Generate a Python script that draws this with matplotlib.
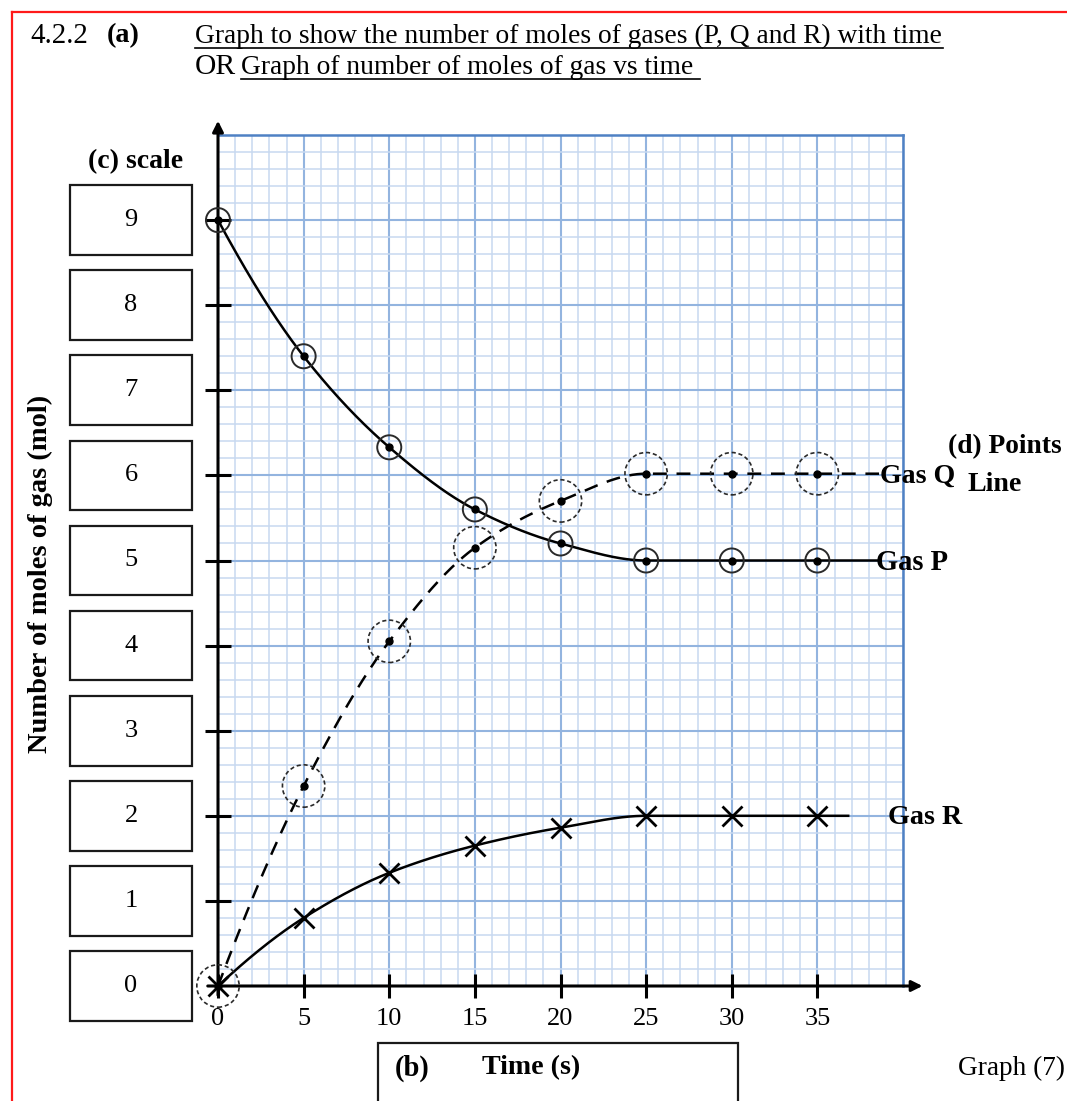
import numpy as np
import matplotlib
matplotlib.use("Agg")
import matplotlib.pyplot as plt
from matplotlib.patches import Rectangle
from matplotlib.lines import Line2D
from matplotlib.transforms import blended_transform_factory
from matplotlib.ticker import MultipleLocator

# ---------------- data ----------------
time_s = [0, 5, 10, 15, 20, 25, 30, 35]
gas_p = [9.0, 7.4, 6.33, 5.6, 5.2, 5.0, 5.0, 5.0]
gas_q = [0.0, 2.35, 4.05, 5.15, 5.7, 6.02, 6.02, 6.02]
gas_r = [0.0, 0.8, 1.33, 1.65, 1.86, 2.0, 2.0, 2.0]
x_ticks = [0, 5, 10, 15, 20, 25, 30, 35]
y_scale = [0, 1, 2, 3, 4, 5, 6, 7, 8, 9]
series_names = ["Gas P", "Gas Q", "Gas R"]

# ---------------- style ----------------
plt.rcParams["font.family"] = ["Liberation Serif", "DejaVu Serif"]
plt.rcParams["lines.scale_dashes"] = False
W, H = 1067, 1101
fig = plt.figure(figsize=(W / 100, H / 100), dpi=100)
fig.patch.set_facecolor("white")

def fx(px):
    return px / W

def fy(py):
    return 1 - py / H

ax = fig.add_axes([fx(218), fy(986), (903 - 218) / W, (986 - 135) / H])
ax.set_xlim(0, 40)
ax.set_ylim(0, 10)
ax.set_facecolor("white")

# graph paper grid
ax.xaxis.set_minor_locator(MultipleLocator(1))
ax.yaxis.set_minor_locator(MultipleLocator(0.2))
ax.set_xticks(x_ticks)
ax.set_yticks(y_scale[1:])
ax.set_yticklabels([])
ax.set_xticklabels([str(v) for v in x_ticks], fontsize=19)
ax.tick_params(axis="both", which="minor", length=0)
ax.tick_params(axis="y", which="major", direction="inout", length=19, width=2.2, color="k")
ax.tick_params(axis="x", which="major", direction="inout", length=17, width=2.2, color="k", pad=7)
ax.set_axisbelow(True)
ax.grid(which="minor", color="#c8d9f0", lw=1.1)
ax.grid(which="major", color="#93b4df", lw=1.5)
for s in ["left", "bottom"]:
    ax.spines[s].set_visible(False)
for s in ["top", "right"]:
    ax.spines[s].set_color("#4f81c4")
    ax.spines[s].set_linewidth(1.8)

# axis arrows
ax.annotate("", xy=(0, 10.2), xytext=(0, -0.14), xycoords="data",
            arrowprops=dict(arrowstyle="-|>", lw=2.2, color="k", mutation_scale=16),
            annotation_clip=False)
ax.annotate("", xy=(41.3, 0), xytext=(-0.76, 0), xycoords="data",
            arrowprops=dict(arrowstyle="-|>", lw=2.2, color="k", mutation_scale=16),
            annotation_clip=False)

# ---------------- smooth curves ----------------
def pchip(x, y, xs):
    x = np.asarray(x, float)
    y = np.asarray(y, float)
    h = np.diff(x)
    d = np.diff(y) / h
    n = len(x)
    m = np.zeros(n)
    for k in range(1, n - 1):
        if d[k - 1] * d[k] > 0:
            w1 = 2 * h[k] + h[k - 1]
            w2 = h[k] + 2 * h[k - 1]
            m[k] = (w1 + w2) / (w1 / d[k - 1] + w2 / d[k])
    def end_slope(h0, h1, d0, d1):
        s = ((2 * h0 + h1) * d0 - h0 * d1) / (h0 + h1)
        if np.sign(s) != np.sign(d0):
            s = 0.0
        elif np.sign(d0) != np.sign(d1) and abs(s) > abs(3 * d0):
            s = 3 * d0
        return s
    m[0] = end_slope(h[0], h[1], d[0], d[1])
    m[-1] = end_slope(h[-1], h[-2], d[-1], d[-2])
    idx = np.clip(np.searchsorted(x, xs) - 1, 0, n - 2)
    t = (xs - x[idx]) / h[idx]
    h00 = 2 * t**3 - 3 * t**2 + 1
    h10 = t**3 - 2 * t**2 + t
    h01 = -2 * t**3 + 3 * t**2
    h11 = t**3 - t**2
    return h00 * y[idx] + h10 * h[idx] * m[idx] + h01 * y[idx + 1] + h11 * h[idx] * m[idx + 1]

xs = np.linspace(time_s[0], time_s[-1], 500)
line_end = {"Gas P": 38.6, "Gas Q": 38.6, "Gas R": 36.8}

def curve(vals, name):
    ys = pchip(time_s, vals, xs)
    return np.append(xs, line_end[name]), np.append(ys, vals[-1])

cx, cy = curve(gas_p, "Gas P")
ax.plot(cx, cy, color="k", lw=1.8, zorder=3, clip_on=False)
cx, cy = curve(gas_q, "Gas Q")
ax.plot(cx, cy, color="k", lw=1.8, dashes=(10, 7), zorder=3, clip_on=False)
cx, cy = curve(gas_r, "Gas R")
ax.plot(cx, cy, color="k", lw=1.8, zorder=3, clip_on=False)

# markers
ax.scatter(time_s, gas_p, s=300, facecolors="none", edgecolors="#2a2a2a", linewidths=1.4,
           zorder=4, clip_on=False)
ax.plot(time_s, gas_p, "o", color="k", ms=5, zorder=5, ls="none", clip_on=False)
ax.scatter(time_s, gas_q, s=930, facecolors="none", edgecolors="#2a2a2a", linewidths=1.2,
           linestyles=[(0, (3, 2))], zorder=4, clip_on=False)
ax.plot(time_s, gas_q, "o", color="k", ms=5, zorder=5, ls="none", clip_on=False)
ax.plot(time_s, gas_r, "x", color="k", ms=14, mew=2.0, zorder=5, ls="none", clip_on=False)

# ---------------- scale boxes ----------------
trans = blended_transform_factory(fig.transFigure, ax.transData)
for v in y_scale:
    ax.add_patch(Rectangle((fx(70), v - 0.41), (192 - 70) / W, 0.82, transform=trans,
                           fill=False, ec="#1a1a1a", lw=1.6, clip_on=False))
    ax.text(fx(131), v, str(v), transform=trans, ha="center", va="center", fontsize=19,
            clip_on=False)

# ---------------- text helpers ----------------
renderer = fig.canvas.get_renderer()

def fit_text(s, x0, x1, yc, weight="normal", size=18):
    t = fig.text(fx(x0), fy(yc), s, ha="left", va="center", fontsize=size, fontweight=weight)
    bb = t.get_window_extent(renderer)
    t.set_fontsize(size * (x1 - x0) / bb.width)
    return t

def underline(x0, x1, y):
    fig.add_artist(Line2D([fx(x0), fx(x1)], [fy(y), fy(y)], color="k", lw=1.2))

fit_text("4.2.2", 30, 88, 36)
fit_text("(a)", 107, 140, 36, "bold")
fit_text("Graph to show the number of moles of gases (P, Q and R) with time", 195, 943, 36)
underline(195, 943, 48)
fit_text("OR", 195, 236, 67)
fit_text("Graph of number of moles of gas vs time", 241, 693, 67)
underline(241, 700, 79)

fit_text("(c) scale", 88, 183, 162, "bold")
fit_text("(d) Points", 948, 1062, 447, "bold")
fit_text("Line", 968, 1022, 484, "bold")
fit_text(series_names[1], 880, 955, 476, "bold")
fit_text(series_names[0], 876, 948, 562, "bold")
fit_text(series_names[2], 888, 962, 818, "bold")
fit_text("(b)", 395, 430, 1068, "bold")
fit_text("Time (s)", 482, 580, 1068, "bold")
fit_text("Graph (7)", 958, 1065, 1068)

# y-axis label
yl = fig.text(fx(40), fy(574), "Number of moles of gas (mol)", rotation=90, ha="center",
              va="center", fontsize=18, fontweight="bold")
bb = yl.get_window_extent(renderer)
yl.set_fontsize(18 * (752 - 395) / bb.height)

# box around (b) Time (s)
fig.add_artist(Rectangle((fx(378), fy(1115)), (738 - 378) / W, (1115 - 1043) / H,
                         transform=fig.transFigure, fill=False, ec="#1a1a1a", lw=1.6))

# red frame
fig.add_artist(Line2D([fx(12), fx(1070)], [fy(12), fy(12)], color="#ff1a1a", lw=1.6))
fig.add_artist(Line2D([fx(12), fx(12)], [fy(12), fy(1105)], color="#ff1a1a", lw=1.6))

fig.savefig("out.png", dpi=100)
